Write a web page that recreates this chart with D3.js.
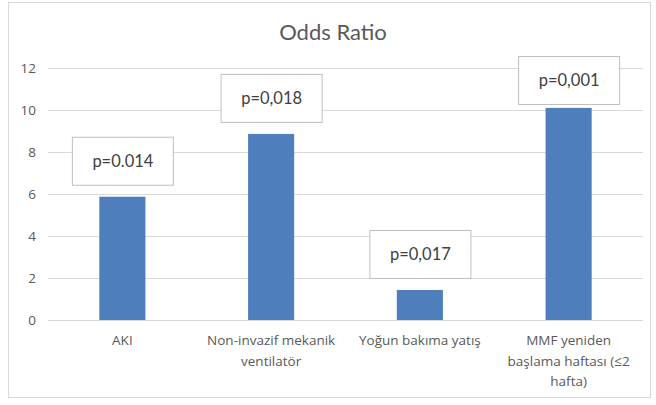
<!DOCTYPE html>
<html>
<head>
<meta charset="utf-8">
<script src="https://cdn.jsdelivr.net/npm/d3@7/dist/d3.min.js"></script>
<style>
  html, body { margin: 0; padding: 0; background: #fff; }
  svg { display: block; font-family: Lato, "Open Sans", "Liberation Sans", sans-serif; }
</style>
</head>
<body>
<svg id="chart" width="656" height="405"></svg>
<script>
// Odds ratios per outcome, with the p-value shown above each bar
const categories = [
  ["AKI"],
  ["Non-invazif mekanik", "ventilatör"],
  ["Yoğun bakıma yatış"],
  ["MMF yeniden", "başlama haftası (≤2", "hafta)"]
];
const oddsRatios = [5.87, 8.86, 1.43, 10.1];
const pLabels = ["p=0.014", "p=0,018", "p=0,017", "p=0,001"];
const yTicks = [0, 2, 4, 6, 8, 10, 12];

const svg = d3.select("#chart");
const W = 656, H = 405;
const margin = { left: 48, right: 13, top: 68, bottom: 85 };

// chart area frame
svg.append("rect")
  .attr("x", 8.5).attr("y", 2.5)
  .attr("width", 642).attr("height", 395)
  .attr("fill", "#fff").attr("stroke", "#d9d9d9");

svg.append("text")
  .attr("x", 333).attr("y", 40)
  .attr("text-anchor", "middle")
  .attr("font-size", 22)
  .attr("fill", "#595959")
  .text("Odds Ratio");

const x = d3.scaleBand()
  .domain(d3.range(categories.length))
  .range([margin.left, W - margin.right])
  .paddingInner(0.69)
  .paddingOuter(0.345);

const y = d3.scaleLinear()
  .domain([0, 12])
  .range([H - margin.bottom, margin.top]);

// horizontal gridlines and value axis labels
const yAxis = d3.axisLeft(y)
  .tickValues(yTicks)
  .tickSize(-(W - margin.right - margin.left))
  .tickPadding(12);

const gy = svg.append("g")
  .attr("transform", `translate(${margin.left},0)`)
  .call(yAxis);
gy.select(".domain").remove();
gy.selectAll(".tick line").attr("stroke", "#d9d9d9");
gy.selectAll(".tick text")
  .attr("fill", "#595959")
  .attr("font-size", 13.5)
  .attr("font-family", "'Open Sans', Lato, sans-serif");

// bars
svg.append("g").selectAll("rect")
  .data(oddsRatios)
  .join("rect")
  .attr("x", (d, i) => x(i))
  .attr("y", d => y(d))
  .attr("width", x.bandwidth())
  .attr("height", d => y(0) - y(d))
  .attr("fill", "#4e7fbc");

// category labels beneath the axis
const cat = svg.append("g").selectAll("text")
  .data(categories)
  .join("text")
  .attr("x", (d, i) => x(i) + x.bandwidth() / 2)
  .attr("y", y(0) + 25)
  .attr("text-anchor", "middle")
  .attr("font-size", 13.5)
  .attr("font-family", "'Open Sans', Lato, sans-serif")
  .attr("fill", "#595959");
cat.selectAll("tspan")
  .data(d => d)
  .join("tspan")
  .attr("x", function () { return d3.select(this.parentNode).attr("x"); })
  .attr("dy", (d, j) => j === 0 ? 0 : 20.5)
  .text(d => d);

// p-value callout boxes above each bar
const boxW = 101, boxH = 48, gap = 12, minTop = 56;
const labels = svg.append("g").selectAll("g")
  .data(oddsRatios)
  .join("g")
  .attr("transform", (d, i) => {
    const cx = x(i) + x.bandwidth() / 2;
    const top = Math.max(minTop, y(d) - gap - boxH);
    return `translate(${cx - boxW / 2},${top})`;
  });
labels.append("rect")
  .attr("x", 0.5).attr("y", 0.5)
  .attr("width", boxW).attr("height", boxH)
  .attr("fill", "#fff")
  .attr("stroke", "#bfbfbf");
labels.append("text")
  .attr("x", boxW / 2 + 0.5)
  .attr("y", boxH / 2 + 6)
  .attr("text-anchor", "middle")
  .attr("font-size", 16.5)
  .attr("fill", "#404040")
  .text((d, i) => pLabels[i]);
</script>
</body>
</html>
